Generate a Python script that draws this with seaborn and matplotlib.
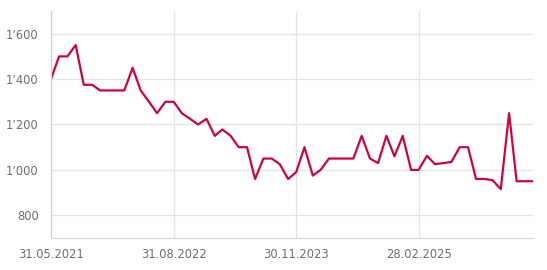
import matplotlib
matplotlib.use("Agg")
import matplotlib.pyplot as plt
import matplotlib.dates as mdates
import matplotlib.ticker as mticker
import seaborn as sns
import pandas as pd

start_date = "2021-05-31"
values = [1400, 1500, 1500, 1550, 1375, 1375, 1350, 1350, 1350, 1350,
          1450, 1350, 1300, 1250, 1300, 1300, 1250, 1225, 1200, 1225,
          1150, 1178, 1150, 1100, 1100, 960, 1050, 1050, 1025, 960,
          990, 1100, 975, 1000, 1050, 1050, 1050, 1050, 1150, 1050,
          1030, 1150, 1060, 1150, 1000, 1000, 1062, 1025, 1030, 1035,
          1100, 1100, 960, 960, 955, 915, 1250, 950, 950, 950]
tick_dates = ["2021-05-31", "2022-08-31", "2023-11-30", "2025-02-28"]
y_ticks = [800, 1000, 1200, 1400, 1600]

dates = pd.date_range(start_date, periods=len(values), freq="ME")
df = pd.DataFrame({"date": dates, "value": values})

sns.set_theme(style="white")
plt.rcParams["font.family"] = ["DejaVu Sans"]

fig = plt.figure(figsize=(5.47, 2.70), dpi=100)
ax = fig.add_axes([51/547, 32/270, (533-51)/547, (238-11)/270])

sns.lineplot(data=df, x="date", y="value", ax=ax, color="#d0043c", linewidth=1.6)

ax.set_xlim(dates[0], dates[-1])
ax.set_ylim(700, 1700)
ax.set_xticks(pd.to_datetime(tick_dates))
ax.xaxis.set_major_formatter(mdates.DateFormatter("%d.%m.%Y"))
ax.set_yticks(y_ticks)
ax.yaxis.set_major_formatter(mticker.FuncFormatter(lambda v, p: f"{int(v):,}".replace(",", "’")))

ax.grid(True, color="#e4e4e4", linewidth=0.9)
ax.set_axisbelow(True)
for s in ["top", "right"]:
    ax.spines[s].set_visible(False)
ax.spines["left"].set_color("#d0d0d0")
ax.spines["bottom"].set_color("#d8d8d8")
ax.spines["left"].set_linewidth(0.9)
ax.spines["bottom"].set_linewidth(0.9)
ax.tick_params(axis="both", length=0, labelsize=8.3, labelcolor="#6e6e6e")
ax.tick_params(axis="y", pad=9)
ax.tick_params(axis="x", pad=7)
ax.set_xlabel("")
ax.set_ylabel("")

fig.savefig("out.png", dpi=100)
